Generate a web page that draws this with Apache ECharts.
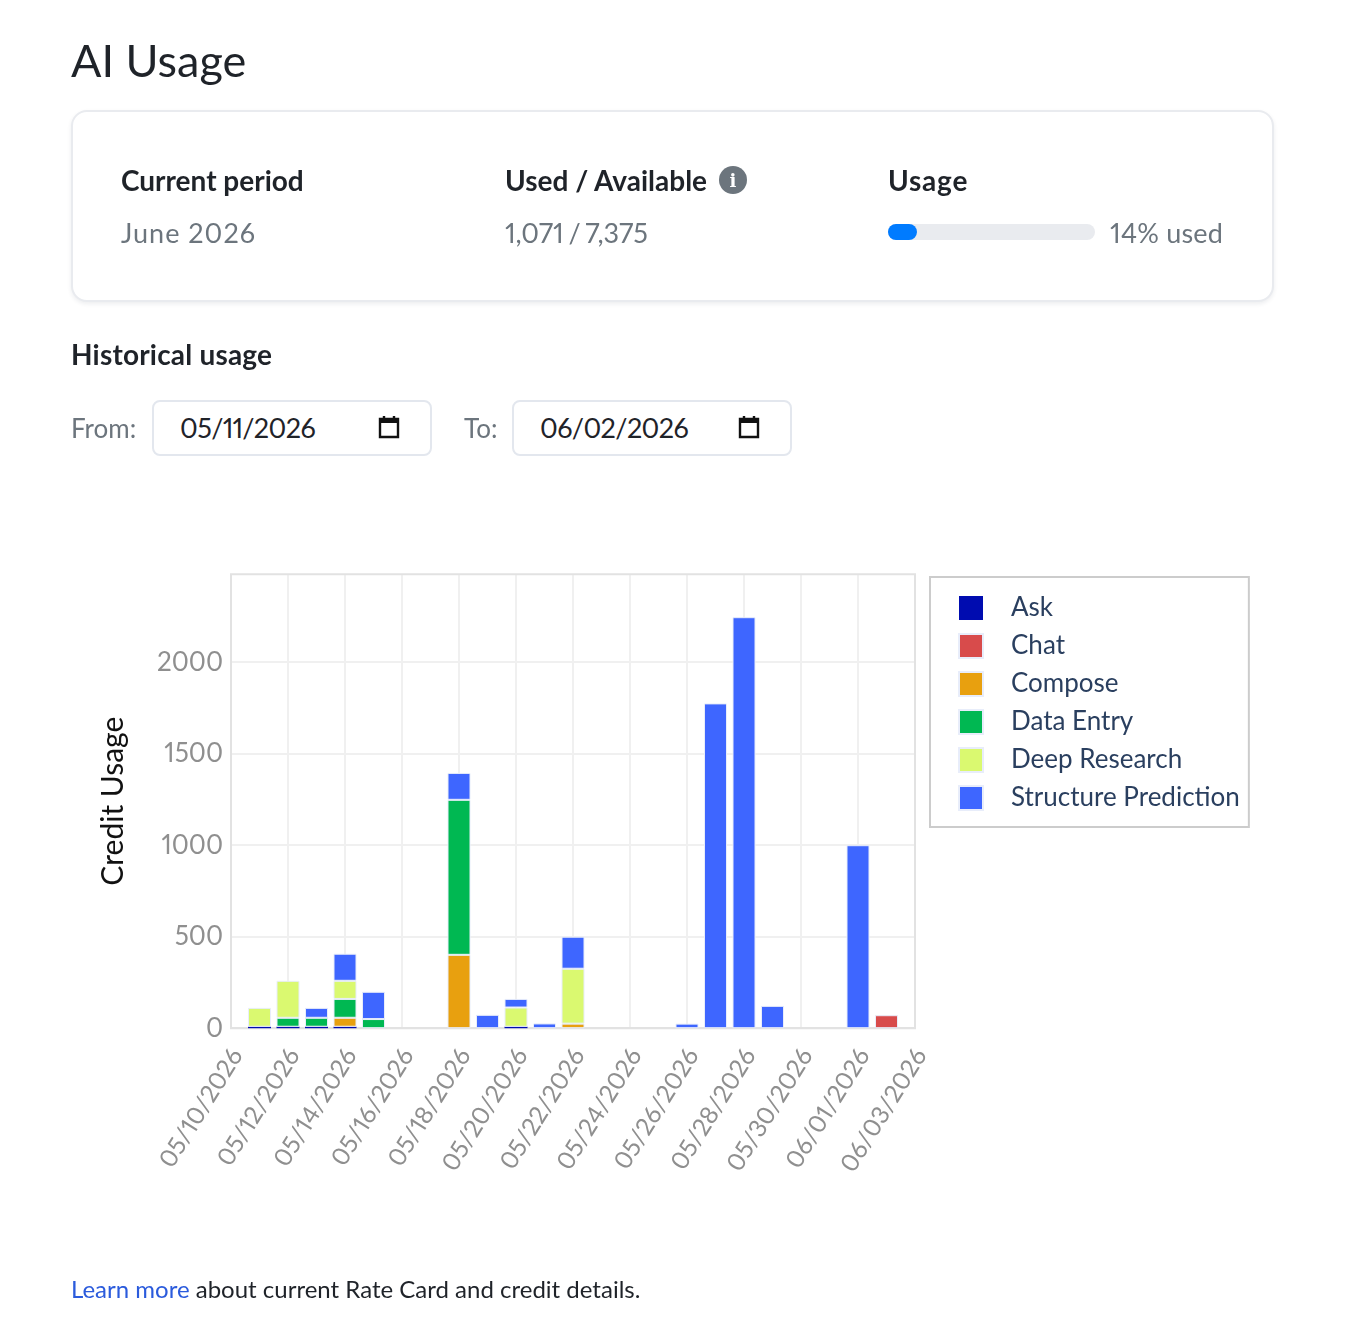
<!DOCTYPE html>
<html>
<head>
<meta charset="utf-8">
<title>AI Usage</title>
<script src="https://cdn.jsdelivr.net/npm/echarts@6/dist/echarts.min.js"></script>
<style>
  html, body { margin: 0; padding: 0; background: #fff; }
  body { position: relative; width: 1362px; height: 1344px; overflow: hidden; font-family: Lato, "Open Sans", sans-serif; font-variant-numeric: proportional-nums; }
  #chart { position: absolute; left: 0; top: 0; width: 1362px; height: 1344px; }
  .t { position: absolute; white-space: nowrap; line-height: 1; }
  .head { font-size: 28px; font-weight: 700; color: #1f2329; }
  .muted { font-size: 27px; color: #6c757d; }
  .card { position: absolute; left: 71px; top: 110px; width: 1199px; height: 188px; border: 2px solid #e9ebef; border-radius: 16px; background: #fff; box-shadow: 0 2px 4px rgba(30,40,60,.08); }
  .input { position: absolute; top: 400px; width: 276px; height: 52px; border: 2px solid #e3e7ee; border-radius: 8px; background: #fff; }
  .date { font-size: 27px; color: #1f2329; letter-spacing: -.6px; }
  svg.ic { position: absolute; top: 415px; }
</style>
</head>
<body>
<div class="card"></div>
<div id="chart"></div>

<div class="t" style="left:71px;top:38px;font-size:45px;color:#1f2329">AI Usage</div>

<div class="t head" style="left:121px;top:166px">Current period</div>
<div class="t muted" style="left:121px;top:219px;letter-spacing:1px">June 2026</div>
<div class="t head" style="left:505px;top:166px">Used / Available</div>
<svg style="position:absolute;left:719px;top:165px" width="28" height="30" viewBox="0 0 28 30">
  <circle cx="14" cy="15" r="14" fill="#6c757d"/>
  <text x="14" y="22" text-anchor="middle" font-family="DejaVu Serif" font-weight="700" font-size="18" fill="#fff">i</text>
</svg>
<div class="t muted" style="left:505px;top:219px;letter-spacing:-.1px;word-spacing:-2px">1,071 / 7,375</div>
<div class="t head" style="left:888px;top:166px;letter-spacing:.8px">Usage</div>
<div class="t muted" style="left:1110px;top:219px;letter-spacing:.2px">14% used</div>

<div class="t head" style="left:71px;top:340px;letter-spacing:.2px">Historical usage</div>
<div class="t muted" style="left:71px;top:415px;font-size:26px">From:</div>
<div class="input" style="left:152px"></div>
<div class="t date" style="left:180px;top:414px">05/<span style="letter-spacing:-1px">11</span>/2026</div>
<svg class="ic" style="left:378px" width="22" height="24" viewBox="0 0 22 24">
  <path d="M2 4h18v18H2z" fill="none" stroke="#111" stroke-width="2.4"/>
  <path d="M2 4h18v4H2z" fill="#111"/>
  <path d="M6 1v4M16 1v4" stroke="#111" stroke-width="2.4"/>
</svg>
<div class="t muted" style="left:464px;top:415px;font-size:26px">To:</div>
<div class="input" style="left:512px"></div>
<div class="t date" style="left:540px;top:414px">06/02/2026</div>
<svg class="ic" style="left:738px" width="22" height="24" viewBox="0 0 22 24">
  <path d="M2 4h18v18H2z" fill="none" stroke="#111" stroke-width="2.4"/>
  <path d="M2 4h18v4H2z" fill="#111"/>
  <path d="M6 1v4M16 1v4" stroke="#111" stroke-width="2.4"/>
</svg>

<div class="t" style="left:71px;top:1277px;font-size:24px;color:#1f2329"><span style="color:#2b5bdc">Learn more</span> about current Rate Card and credit details.</div>

<script>
// Daily credit usage by feature, one entry per calendar day.
const dates = ['05/10/2026','05/11/2026','05/12/2026','05/13/2026','05/14/2026','05/15/2026','05/16/2026','05/17/2026','05/18/2026','05/19/2026','05/20/2026','05/21/2026','05/22/2026','05/23/2026','05/24/2026','05/25/2026','05/26/2026','05/27/2026','05/28/2026','05/29/2026','05/30/2026','05/31/2026','06/01/2026','06/02/2026','06/03/2026'];
const ask        = [null,8,8,8,8,null,null,null,null,null,8,null,null,null,null,null,null,null,null,null,null,null,null,null,null];
const chat       = [null,null,null,null,null,null,null,null,null,null,null,null,null,null,null,null,null,null,null,null,null,null,null,71,null];
const compose    = [null,null,null,null,49,null,null,null,401,null,null,null,25,null,null,null,null,null,null,null,null,null,null,null,null];
const dataEntry  = [null,null,49,49,103,50,null,null,847,null,null,null,null,null,null,null,null,null,null,null,null,null,null,null,null];
const deepResearch = [null,103,202,null,99,null,null,null,null,null,105,null,300,null,null,null,null,null,null,null,null,null,null,null,null];
const structurePrediction = [null,null,null,54,148,149,null,null,147,73,47,26,175,null,null,null,25,1775,2246,122,null,null,1000,null,null];

const seriesNames = ['Ask','Chat','Compose','Data Entry','Deep Research','Structure Prediction'];
const seriesValues = [ask, chat, compose, dataEntry, deepResearch, structurePrediction];
const seriesColors = ['#000CB0','#D84B4B','#E8A00F','#00B852','#DAF970','#3E66FF'];

// Share of the monthly allowance consumed so far.
const usedPercent = [14];

const chart = echarts.init(document.getElementById('chart'));
const tickColor = '#8f8f8f';
const gridColor = '#f0f0f0';
const fontFamily = 'Lato, "Open Sans", sans-serif';

chart.setOption({
  animation: false,
  textStyle: { fontFamily },
  grid: [
    { left: 231, top: 574.2, width: 684, height: 454, show: true, borderColor: '#e2e2e2', borderWidth: 2, backgroundColor: 'transparent', z: 1 },
    { left: 888, top: 224, width: 207, height: 16 }
  ],
  xAxis: [
    {
      gridIndex: 0, type: 'category', data: dates, boundaryGap: false,
      axisLine: { show: true, lineStyle: { color: '#e2e2e2', width: 2 } },
      axisTick: { show: false },
      splitLine: { show: true, interval: 1, lineStyle: { color: gridColor, width: 2 } },
      axisLabel: { interval: 1, rotate: 58, color: tickColor, fontSize: 24.5, margin: 19, verticalAlign: 'top', lineHeight: 14, fontFamily, hideOverlap: false, showMaxLabel: true }
    },
    { gridIndex: 1, type: 'value', min: 0, max: 100, show: false }
  ],
  yAxis: [
    {
      gridIndex: 0, type: 'value', min: 0, max: 2481, interval: 500,
      name: 'Credit Usage', nameLocation: 'middle', nameGap: 103, nameRotate: 90,
      nameTextStyle: { color: '#111', fontSize: 30, fontFamily },
      axisLine: { show: false }, axisTick: { show: false },
      splitLine: { show: true, showMaxLine: false, lineStyle: { color: gridColor, width: 2 } },
      axisLabel: { color: tickColor, fontSize: 26, margin: 8, showMaxLabel: false, fontFamily, padding: [4, 0, 0, 0], formatter: v => String(v) }
    },
    { gridIndex: 1, type: 'category', data: ['Usage'], show: false }
  ],
  legend: {
    orient: 'vertical', left: 930, top: 577,
    padding: [18, 9, 16, 28],
    backgroundColor: '#fff', borderColor: '#cccccc', borderWidth: 2,
    itemWidth: 24, itemHeight: 24, itemGap: 12, icon: 'rect',
    textStyle: { color: '#2a3f5f', fontSize: 26, padding: [0, 0, 0, 23], fontFamily },
    data: seriesNames
  },
  series: seriesNames.map((name, i) => ({
    name, type: 'bar', stack: 'usage', xAxisIndex: 0, yAxisIndex: 0,
    data: seriesValues[i], barWidth: 23,
    // The Ask slivers are too thin to carry an outline.
    itemStyle: { color: seriesColors[i], borderColor: '#e8edfa', borderWidth: i === 0 ? 0 : 1 },
    z: 3
  })).concat([{
    type: 'bar', xAxisIndex: 1, yAxisIndex: 1, data: usedPercent, barWidth: 16,
    showBackground: true,
    backgroundStyle: { color: '#e9ebef', borderRadius: 8 },
    itemStyle: { color: '#007bff', borderRadius: 8 }
  }])
});
</script>
</body>
</html>
